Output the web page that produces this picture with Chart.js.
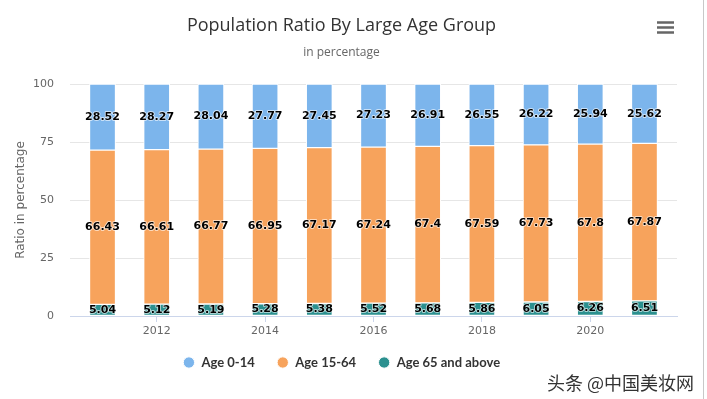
<!DOCTYPE html>
<html>
<head>
<meta charset="utf-8">
<script src="https://cdn.jsdelivr.net/npm/chart.js@4/dist/chart.umd.min.js"></script>
<style>
  html, body { margin: 0; padding: 0; background: #fff; }
  #wrap { width: 707px; height: 399px; position: relative; }
</style>
</head>
<body>
<div id="wrap"><canvas id="myChart" width="707" height="399"></canvas></div>
<script>
// years and shares (percent)
let years = [2011, 2012, 2013, 2014, 2015, 2016, 2017, 2018, 2019, 2020, 2021];
let age0to14 = [28.52, 28.27, 28.04, 27.77, 27.45, 27.23, 26.91, 26.55, 26.22, 25.94, 25.62];
let age15to64 = [66.43, 66.61, 66.77, 66.95, 67.17, 67.24, 67.4, 67.59, 67.73, 67.8, 67.87];
let age65up = [5.04, 5.12, 5.19, 5.28, 5.38, 5.52, 5.68, 5.86, 6.05, 6.26, 6.51];
let yTicks = [0, 25, 50, 75, 100];

function points(values) {
    return years.map(function (y, i) { return {x: y, y: values[i]}; });
}

/* labels in the middle of each segment
 -----------------------------------------------*/
const segmentLabels = {
    id: 'segmentLabels',
    afterDatasetsDraw(chart) {
        const ctx = chart.ctx;
        ctx.save();
        ctx.font = 'bold 11px "DejaVu Sans", Verdana, sans-serif';
        ctx.textAlign = 'center';
        ctx.textBaseline = 'middle';
        ctx.lineJoin = 'round';
        chart.data.datasets.forEach(function (ds, di) {
            const meta = chart.getDatasetMeta(di);
            meta.data.forEach(function (bar, i) {
                const txt = String(ds.data[i].y);
                const cy = (bar.y + bar.base) / 2;
                ctx.strokeStyle = 'rgba(255,255,255,0.75)';
                ctx.lineWidth = 1.6;
                ctx.strokeText(txt, bar.x, cy);
                ctx.fillStyle = '#000000';
                ctx.fillText(txt, bar.x, cy);
            });
        });
        ctx.restore();
    }
};

/* menu icon, frame line, watermark
 -----------------------------------------------*/
const decorations = {
    id: 'decorations',
    afterDraw(chart) {
        const ctx = chart.ctx;
        ctx.save();
        ctx.strokeStyle = '#666666';
        ctx.lineWidth = 2.5;
        [22.5, 27.5, 32.5].forEach(function (y) {
            ctx.beginPath();
            ctx.moveTo(657, y);
            ctx.lineTo(674, y);
            ctx.stroke();
        });
        ctx.strokeStyle = '#c8c8c8';
        ctx.lineWidth = 1;
        ctx.beginPath();
        ctx.moveTo(703.5, 0);
        ctx.lineTo(703.5, 399);
        ctx.stroke();
        ctx.fillStyle = '#333333';
        ctx.font = '18px "Noto Sans CJK SC", sans-serif';
        ctx.textAlign = 'right';
        ctx.textBaseline = 'middle';
        ctx.fillText('头条 @中国美妆网', 694, 383);
        ctx.restore();
    }
};

let ctx = document.getElementById('myChart').getContext('2d');
let myChart = new Chart(ctx, {
    type: 'bar',
    data: {
        datasets: [{
            label: 'Age 65 and above',
            data: points(age65up),
            backgroundColor: '#2b908f'
        }, {
            label: 'Age 15-64',
            data: points(age15to64),
            backgroundColor: '#f7a35c'
        }, {
            label: 'Age 0-14',
            data: points(age0to14),
            backgroundColor: '#7cb5ec'
        }]
    },
    options: {
        responsive: false,
        animation: false,
        datasets: {
            bar: {
                barThickness: 26,
                borderColor: '#ffffff',
                borderWidth: 1,
                borderSkipped: false
            }
        },
        layout: {padding: {left: 6, right: 30, top: 13, bottom: 20}},
        scales: {
            x: {
                type: 'linear',
                stacked: true,
                offset: false,
                min: 2010.4,
                max: 2021.6,
                afterFit: function (axis) {
                    axis.height = 18;
                },
                grid: {display: true, offset: false, drawOnChartArea: false, drawTicks: true, tickLength: 6, color: '#ccd6eb'},
                border: {display: true, color: '#ccd6eb'},
                ticks: {
                    stepSize: 2,
                    includeBounds: false,
                    color: '#666666',
                    font: {family: '"DejaVu Sans", sans-serif', size: 11},
                    padding: 3,
                    maxRotation: 0,
                    callback: function (v) { return String(v); }
                }
            },
            y: {
                stacked: true,
                min: 0,
                max: 100,
                afterBuildTicks: function (axis) {
                    axis.ticks = yTicks.map(function (v) { return {value: v}; });
                },
                afterFit: function (axis) {
                    axis.width = 64;
                },
                grid: {color: '#e6e6e6', drawTicks: false},
                border: {display: false},
                ticks: {
                    color: '#666666',
                    font: {family: '"DejaVu Sans", sans-serif', size: 11},
                    padding: 16
                },
                title: {
                    display: true,
                    text: 'Ratio in percentage',
                    color: '#666666',
                    font: {family: '"DejaVu Sans", sans-serif', size: 12},
                    padding: {top: 8, bottom: 4}
                }
            }
        },
        plugins: {
            title: {
                display: true,
                text: 'Population Ratio By Large Age Group',
                color: '#333333',
                font: {family: '"Open Sans", sans-serif', size: 18, weight: 'normal'},
                padding: {top: 2, bottom: 9}
            },
            subtitle: {
                display: true,
                text: 'in percentage',
                color: '#666666',
                font: {family: '"Open Sans", sans-serif', size: 12},
                padding: {top: 0, bottom: 24}
            },
            legend: {
                position: 'bottom',
                reverse: true,
                labels: {
                    usePointStyle: true,
                    pointStyle: 'circle',
                    boxWidth: 12,
                    boxHeight: 8,
                    padding: 22,
                    color: '#333333',
                    font: {family: 'Lato, sans-serif', size: 13, weight: 'bold'}
                }
            },
            tooltip: {enabled: false}
        }
    },
    plugins: [segmentLabels, decorations]
});
</script>
</body>
</html>
